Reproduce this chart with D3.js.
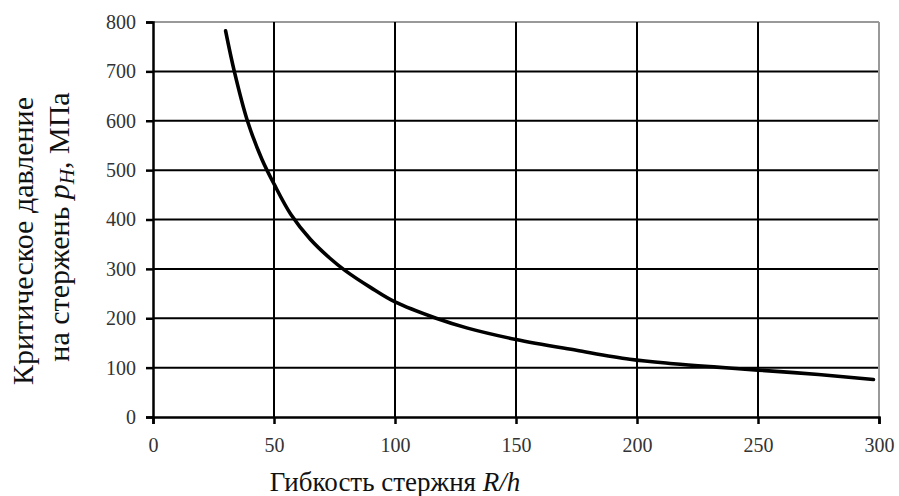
<!DOCTYPE html>
<html><head><meta charset="utf-8">
<script src="https://cdn.jsdelivr.net/npm/d3@7/dist/d3.min.js"></script>
<style>body{margin:0;background:#fff;} svg{display:block;} text{font-family:"Liberation Serif","DejaVu Serif",serif;}</style>
</head><body><svg id="c" width="899" height="496"></svg>
<script>
const slenderness = [30, 33.6, 39, 45, 50, 57, 65, 73, 79.3, 90, 100, 117, 130, 150, 175, 197, 215, 233, 250, 275, 297.7];
const pressure    = [782, 700, 600, 522, 472, 410, 360, 322, 297, 262, 233, 200, 180, 157, 135, 117, 108, 101, 95, 86, 76];
const xTicks = [0, 50, 100, 150, 200, 250, 300];
const yTicks = [0, 100, 200, 300, 400, 500, 600, 700, 800];

const svg = d3.select("#c");
const L = 153, R = 879, T = 22, B = 417;
const x = d3.scaleLinear().domain([0, 300]).range([L, R]);
const y = d3.scaleLinear().domain([0, 800]).range([B, T]);
const font = "Liberation Serif, DejaVu Serif, serif";

// grid
svg.append("g").selectAll("line").data(yTicks.filter(v => v > 0)).join("line")
  .attr("x1", L).attr("x2", R).attr("y1", d => y(d)).attr("y2", d => y(d))
  .attr("stroke", d => d === 800 ? "#999" : "#000").attr("stroke-width", 2);
svg.append("g").selectAll("line").data(xTicks.filter(v => v > 0)).join("line")
  .attr("y1", T).attr("y2", B).attr("x1", d => x(d)).attr("x2", d => x(d))
  .attr("stroke", d => d === 300 ? "#999" : "#000").attr("stroke-width", 2);

// axes
const xAxis = svg.append("g").attr("transform", `translate(0,${B})`)
  .call(d3.axisBottom(x).tickValues(xTicks).tickSize(7).tickPadding(14).tickFormat(d3.format("d")));
const yAxis = svg.append("g").attr("transform", `translate(${L},0)`)
  .call(d3.axisLeft(y).tickValues(yTicks).tickSize(7).tickPadding(10).tickFormat(d3.format("d")));
[xAxis, yAxis].forEach(a => {
  a.attr("font-family", font);
  a.select(".domain").attr("stroke", "#000").attr("stroke-width", 2.5);
  a.selectAll(".tick line").attr("stroke", "#000").attr("stroke-width", 2.5);
  a.selectAll(".tick text").attr("font-family", font).attr("font-size", 20).attr("fill", "#333");
});

// curve
const pts = slenderness.map((v, i) => [v, pressure[i]]);
svg.append("path").datum(pts)
  .attr("d", d3.line().x(d => x(d[0])).y(d => y(d[1])).curve(d3.curveCatmullRom.alpha(0.5)))
  .attr("fill", "none").attr("stroke", "#000").attr("stroke-width", 3.6).attr("stroke-linecap", "round");

// x title
const xt = svg.append("text").attr("x", 395).attr("y", 491).attr("text-anchor", "middle")
  .attr("font-family", font).attr("font-size", 27).attr("fill", "#111");
xt.append("tspan").text("Гибкость стержня ");
xt.append("tspan").attr("font-style", "italic").text("R/h");

// y title
const yt = svg.append("g").attr("transform", "translate(0,241) rotate(-90)");
yt.append("text").attr("x", 0).attr("y", 33).attr("text-anchor", "middle")
  .attr("font-family", font).attr("font-size", 30).attr("fill", "#111").text("Критическое давление");
const t2 = yt.append("text").attr("x", 14).attr("y", 69).attr("text-anchor", "middle")
  .attr("font-family", font).attr("font-size", 30).attr("fill", "#111");
t2.append("tspan").text("на стержень ");
t2.append("tspan").attr("font-style", "italic").text("p");
t2.append("tspan").attr("font-style", "italic").attr("font-size", 21).attr("dy", 5).text("H");
t2.append("tspan").attr("dy", -5).text(", МПа");
</script></body></html>
